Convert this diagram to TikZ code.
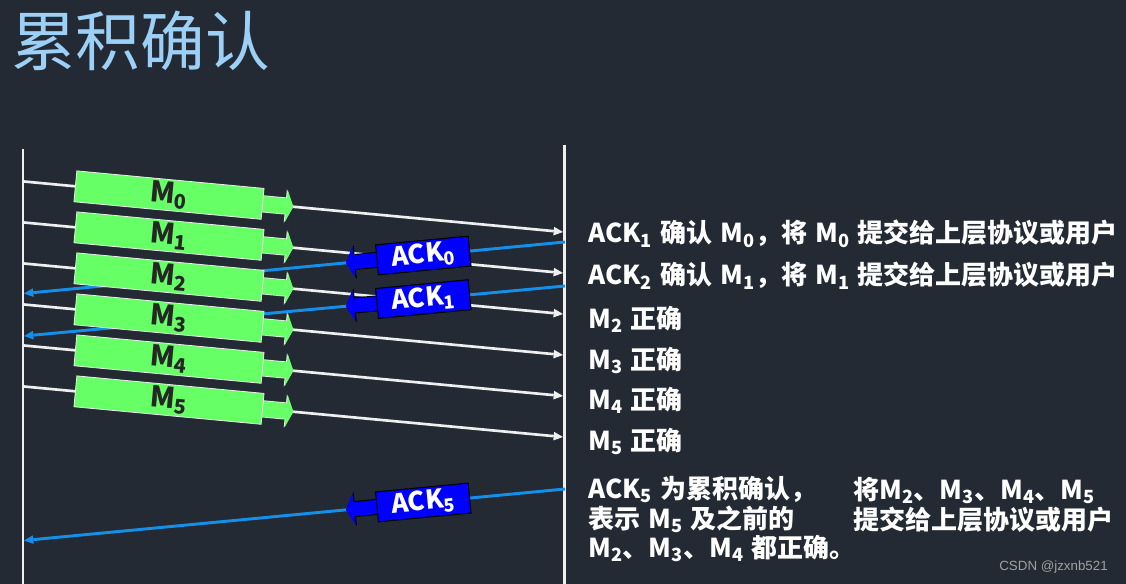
\documentclass[tikz,border=0pt]{standalone}
\usepackage{fontspec}
\setmainfont{Noto Sans CJK SC}[WordSpace=1.35]
\newfontfamily\wmfont{Liberation Sans}
\usetikzlibrary{arrows.meta,calc}
\definecolor{bgc}{HTML}{232A33}
\definecolor{titleblue}{HTML}{9DD0F6}
\definecolor{ackline}{HTML}{1590EA}
\definecolor{mgreen}{HTML}{66FF66}
\definecolor{ackblue}{HTML}{0000FF}
\definecolor{wline}{HTML}{EFEFEF}
\definecolor{wmgray}{HTML}{A0A0A0}
\tikzset{
  vline/.style={draw=wline, line width=2.2pt},
  msgline/.style={draw=wline, line width=2pt, -{Triangle[length=7pt,width=6.5pt,line width=0pt]}},
  ackarrow/.style={draw=ackline, line width=2.2pt, -{Triangle[length=7pt,width=6.5pt,line width=0pt]}},
  mbox/.style={fill=mgreen, draw=white!85!gray, line width=0.6pt, inner sep=0pt,
    minimum width=141pt, minimum height=23.25pt, text=black!85,
    font=\bfseries\fontsize{21.5}{24}\selectfont},
  mtailout/.style={draw=white!85!gray, line width=12.9pt, -{Triangle[length=6pt,width=25.5pt,line width=0pt]}},
  mtail/.style={draw=mgreen, line width=11.7pt, -{Triangle[length=5.25pt,width=24pt,line width=0pt]}},
  ackbox/.style={fill=ackblue, draw=black, line width=0.8pt, inner sep=0pt,
    minimum width=69.75pt, minimum height=22.5pt, text=white,
    font=\bfseries\fontsize{19.5}{22}\selectfont},
  atailout/.style={draw=black, line width=12pt, -{Triangle[length=7pt,width=25.5pt,line width=0pt]}},
  atail/.style={draw=ackblue, line width=10.5pt, -{Triangle[length=6pt,width=24pt,line width=0pt]}},
  rtext/.style={anchor=base west, inner sep=0pt, text=white,
    font=\bfseries\fontsize{19.5}{23}\selectfont},
}
\begin{document}
\begin{tikzpicture}[x=0.75pt,y=-0.75pt]
\fill[bgc] (0,0) rectangle (1126,584);
\useasboundingbox (0,0) rectangle (1126,584);

% title
\node[anchor=west, inner sep=0pt, text=titleblue, font=\fontsize{48.5}{52}\selectfont] (title) at (11,41) {累积确认};

% time lines
\coordinate (Ltop) at (23,149);
\coordinate (Lbot) at (23,584);
\coordinate (Rtop) at (564.5,145);
\coordinate (Rbot) at (564.5,584);
\draw[vline] (Ltop) -- (Lbot);
\draw[vline] (Rtop) -- (Rbot);

% message lines
\foreach \i in {0,...,5}{
  \coordinate (ms\i) at (24,{181.5+41*\i});
  \coordinate (me\i) at (563,{232+41*\i});
  \draw[msgline] (ms\i) -- (me\i);
}

% ACK lines
\coordinate (as0) at (565,242);   \coordinate (ae0) at (24,293.5);
\coordinate (as1) at (565,286);   \coordinate (ae1) at (24,336);
\coordinate (as5) at (565,489);   \coordinate (ae5) at (24,540.5);
\foreach \k in {0,1,5}{
  \draw[ackarrow] (as\k) -- (ae\k);
}

% green message boxes
\foreach \i in {0,...,5}{
  \coordinate (mts\i) at ($(ms\i)!0.43!(me\i)$);
  \coordinate (mtt\i) at ($(ms\i)!0.4996!(me\i)$);
  \draw[mtailout] (mts\i) -- (mtt\i);
  \draw[mtail] (mts\i) -- (mtt\i);
  \node[mbox, rotate=-5.35] (m\i) at ($(ms\i)!0.269!(me\i)$) {M\textsubscript{\i}};
}

% blue ACK boxes
\foreach \k in {0,1,5}{
  \coordinate (ats\k) at ($(as\k)!0.32!(ae\k)$);
  \coordinate (att\k) at ($(as\k)!0.4048!(ae\k)$);
  \draw[atailout] (ats\k) -- (att\k);
  \draw[atail] (ats\k) -- (att\k);
  \node[ackbox, rotate=5.44] (a\k) at ($(as\k)!0.2619!(ae\k)$) {ACK\textsubscript{\k}};
}

% right-hand texts
\node[rtext] (t1) at (588,243) {ACK\textsubscript{1} 确认 M\textsubscript{0}，将 M\textsubscript{0} 提交给上层协议或用户};
\node[rtext] (t2) at (588,285) {ACK\textsubscript{2} 确认 M\textsubscript{1}，将 M\textsubscript{1} 提交给上层协议或用户};
\node[rtext] (t3) at (588,328) {M\textsubscript{2} 正确};
\node[rtext] (t4) at (588,369) {M\textsubscript{3} 正确};
\node[rtext] (t5) at (588,409) {M\textsubscript{4} 正确};
\node[rtext] (t6) at (588,450) {M\textsubscript{5} 正确};

\node[rtext] (b1) at (588,498) {ACK\textsubscript{5} 为累积确认，};
\node[rtext] (b2) at (588,528) {表示 M\textsubscript{5} 及之前的};
\node[rtext] (b3) at (588,557.5) {M\textsubscript{2}、M\textsubscript{3}、M\textsubscript{4} 都正确。};
\node[rtext] (c1) at (853,499.5) {将M\textsubscript{2}、M\textsubscript{3}、M\textsubscript{4}、M\textsubscript{5}};
\node[rtext] (c2) at (853,529.5) {提交给上层协议或用户};

% watermark
\node[anchor=base east, inner sep=0pt, text=wmgray, font=\wmfont\fontsize{10}{12}\selectfont] (wm) at (1108,570) {CSDN @jzxnb521};
\end{tikzpicture}
\end{document}
